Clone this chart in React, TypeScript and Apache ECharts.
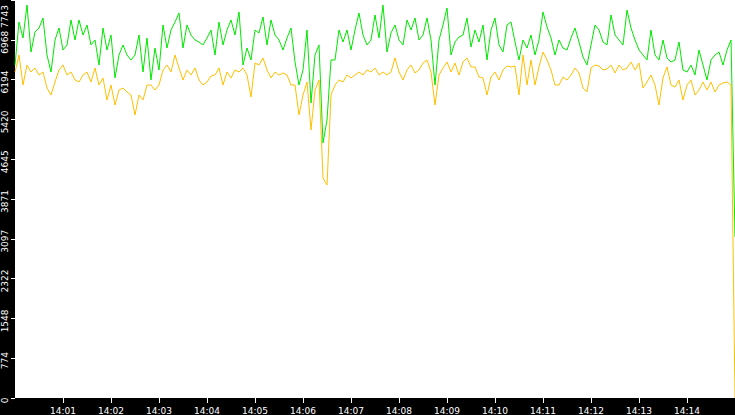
import { useEffect, useRef } from "react";
import * as echarts from "echarts";

// one sample every 5 seconds, 14:00:00 .. 14:15:00
const sampleStepSec = 5;

const greenValues = [
  6478, 7315, 7004, 7646, 6731, 7120, 7198, 7393, 6673, 6342,
  6965, 7198, 6770, 6868, 7354, 6965, 7354, 7062, 7257, 6868,
  6965, 6478, 7198, 6770, 7062, 6226, 6673, 6868, 6673, 6576,
  6673, 7062, 6342, 7004, 6187, 6809, 6381, 7257, 6809, 7159,
  7315, 7490, 6809, 7257, 7062, 6965, 6926, 6868, 7004, 7159,
  6673, 7315, 6868, 7159, 7354, 7062, 7510, 6478, 6809, 6576,
  7159, 7101, 7412, 6868, 7354, 7062, 6965, 6770, 7004, 7198,
  6537, 6089, 6381, 7159, 5739, 6673, 6868, 4961, 5408, 6576,
  6576, 7159, 6926, 7159, 6770, 7159, 7490, 7062, 6868, 6965,
  7451, 7004, 7646, 6731, 7101, 7257, 6965, 6868, 7354, 7159,
  7393, 6965, 7062, 7393, 6965, 6089, 6965, 7257, 7587, 6673,
  6926, 7023, 7062, 7393, 6829, 7159, 6926, 7257, 6576, 7159,
  7393, 6868, 6731, 7257, 7315, 6926, 6576, 6965, 6809, 7062,
  6673, 6965, 7510, 7218, 7004, 6673, 6965, 6809, 6770, 7004,
  7198, 6926, 6634, 6478, 6868, 7257, 7159, 6926, 6868, 7451,
  7062, 6965, 6868, 7548, 7198, 6965, 6770, 6673, 6576, 7159,
  6673, 6576, 6965, 6615, 6537, 6576, 6926, 6381, 6342, 6478,
  6284, 6770, 6478, 6187, 6576, 6673, 6731, 6478, 6770, 6965,
  3132,
];

const orangeValues = [
  6342, 6673, 6089, 6478, 6342, 6420, 6284, 6342, 6031, 5895,
  6148, 6381, 6478, 6284, 6342, 6187, 6148, 6284, 6342, 6148,
  6420, 6089, 6226, 5797, 6089, 5700, 5992, 6031, 5953, 5895,
  5506, 5895, 5797, 6089, 6089, 5992, 6089, 6381, 6478, 6342,
  6673, 6420, 6187, 6381, 6284, 6420, 6187, 6089, 6148, 6264,
  6284, 6420, 6089, 6342, 6226, 6381, 6342, 6420, 6284, 5856,
  6517, 6478, 6615, 6381, 6226, 6342, 6284, 6323, 6284, 6089,
  6089, 5506, 5895, 6148, 5214, 5992, 6187, 4280, 4144, 5895,
  6089, 6187, 6148, 6284, 6226, 6284, 6342, 6284, 6381, 6342,
  6420, 6284, 6342, 6284, 6342, 6615, 6342, 6187, 6381, 6478,
  6323, 6381, 6517, 6576, 6342, 5700, 6284, 6420, 6537, 6342,
  6517, 6284, 6537, 6615, 6440, 6440, 6245, 6226, 5895, 6245,
  6342, 6187, 6381, 6459, 6440, 6459, 5895, 6673, 6089, 6576,
  6089, 6440, 6731, 6576, 6381, 6089, 6089, 6245, 6187, 6284,
  6420, 6323, 6031, 5953, 6420, 6478, 6459, 6381, 6401, 6478,
  6323, 6478, 6381, 6420, 6537, 6381, 6517, 6031, 6148, 6284,
  6089, 5700, 6226, 6440, 6089, 6050, 6187, 5797, 6089, 6187,
  5895, 5992, 6148, 5992, 6148, 5953, 6089, 6128, 6148, 6089,
  0,
];

const yTickLabels = ["0", "774", "1548", "2322", "3097", "3871", "4645", "5420", "6194", "6968", "7743"];
const xTickLabels = ["14:00", "14:01", "14:02", "14:03", "14:04", "14:05", "14:06", "14:07",
  "14:08", "14:09", "14:10", "14:11", "14:12", "14:13", "14:14", "14:15"];

const yMax = 7743;
const yStep = 774.3;

const font = "DejaVu Sans";

export default function App() {
  const chartRef = useRef<HTMLDivElement | null>(null);

  useEffect(() => {
    if (!chartRef.current) return;
    const chart = echarts.init(chartRef.current, null, { renderer: "svg" });

    const toPoints = (vals: number[]) => vals.map((v, i) => [i * sampleStepSec, v]);

    chart.setOption({
      animation: false,
      backgroundColor: "#000",
      grid: {
        left: 15,
        right: 0,
        top: 0,
        bottom: 17,
        show: true,
        backgroundColor: "#fff",
        borderWidth: 0,
      },
      xAxis: {
        type: "value",
        min: 0,
        max: 900,
        interval: 60,
        axisLine: { show: false },
        axisTick: { show: true, length: 5, lineStyle: { color: "#fff" } },
        splitLine: { show: false },
        axisLabel: {
          color: "#fff",
          fontFamily: font,
          fontSize: 9,
          margin: 8,
          showMinLabel: false,
          showMaxLabel: false,
          formatter: (v: number) => xTickLabels[Math.round(v / 60)] ?? "",
        },
      },
      yAxis: {
        type: "value",
        min: 0,
        max: yMax,
        interval: yStep,
        axisLine: { show: false },
        axisTick: { show: true, length: 4, lineStyle: { color: "#fff" } },
        splitLine: { show: false },
        axisLabel: {
          color: "#fff",
          fontFamily: font,
          fontSize: 9,
          rotate: 90,
          margin: 6,
          padding: [0, 5, 0, 0],
          alignMaxLabel: "right",
          formatter: (v: number) => yTickLabels[Math.round(v / yStep)] ?? "",
        },
      },
      series: [
        {
          type: "line",
          data: toPoints(greenValues),
          symbol: "none",
          lineStyle: { color: "#00e800", width: 1 },
          z: 2,
        },
        {
          type: "line",
          data: toPoints(orangeValues),
          symbol: "none",
          lineStyle: { color: "#ffc000", width: 1 },
          z: 3,
        },
      ],
    });

    return () => chart.dispose();
  }, []);

  return (
    <div
      ref={chartRef}
      style={{ position: "fixed", left: 0, top: 0, width: 735, height: 415 }}
    />
  );
}
